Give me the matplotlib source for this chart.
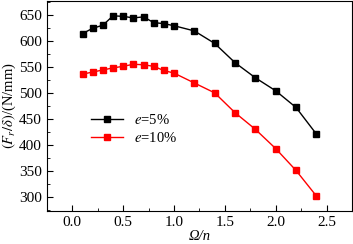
import numpy as np
import matplotlib.pyplot as plt
from matplotlib.ticker import MultipleLocator

ratio = [0.1, 0.2, 0.3, 0.4, 0.5, 0.6, 0.7, 0.8, 0.9, 1.0,
         1.2, 1.4, 1.6, 1.8, 2.0, 2.2, 2.4]
stiff_5 = [614, 624, 630, 648, 647, 644, 646, 635, 633, 629,
           619, 595, 558, 529, 504, 472, 421]
stiff_10 = [536, 540, 544, 548, 551, 555, 554, 551, 543, 538,
            519, 500, 462, 430, 393, 351, 302]

plt.rcParams['font.family'] = ['Liberation Serif', 'DejaVu Serif']
plt.rcParams['mathtext.fontset'] = 'stix'

fig = plt.figure(figsize=(3.53, 2.44), dpi=100)
ax = fig.add_axes([0.133, 0.135, 0.864, 0.862])

ax.plot(ratio, stiff_5, color='k', marker='s', markersize=5, lw=1, label='$e$=5%')
ax.plot(ratio, stiff_10, color='r', marker='s', markersize=5, lw=1, label='$e$=10%')

ax.set_xlim(-0.25, 2.75)
ax.set_ylim(273, 677)
ax.xaxis.set_major_locator(MultipleLocator(0.5))
ax.xaxis.set_minor_locator(MultipleLocator(0.25))
ax.yaxis.set_major_locator(MultipleLocator(50))
ax.yaxis.set_minor_locator(MultipleLocator(25))
ax.tick_params(which='both', direction='in', labelsize=11)
ax.tick_params(which='major', length=4)
ax.tick_params(which='minor', length=2)
ax.set_xlabel('Ω/n', fontsize=10.5, style='italic', labelpad=1)
ax.set_ylabel(r'$(F_r/\delta)$/(N/mm)', fontsize=10.5, labelpad=1)
ax.legend(loc='center left', bbox_to_anchor=(0.1, 0.39), frameon=False,
          fontsize=10.5, handlelength=2.2, labelspacing=0.3)

fig.savefig('out.png', dpi=100)
